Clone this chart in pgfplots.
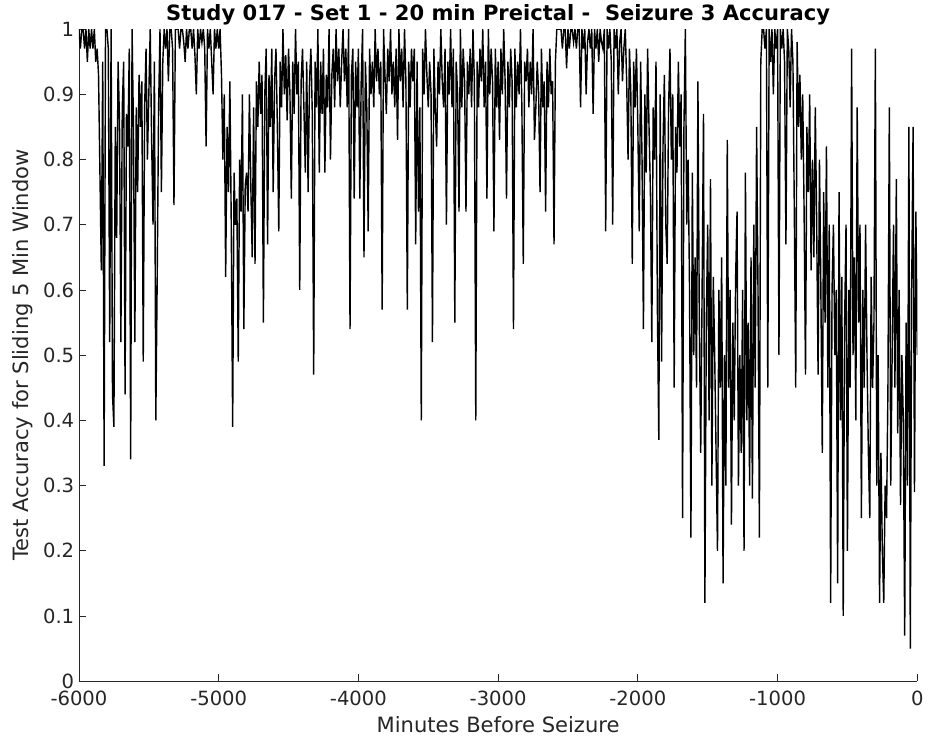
\documentclass[border=0pt]{standalone}
\usepackage{fontspec}
\setmainfont{DejaVu Sans}
\usepackage{pgfplots}
\pgfplotsset{compat=1.18}
\definecolor{axgray}{HTML}{262626}
\begin{document}
\begin{tikzpicture}
\begin{axis}[
  name=ax,
  width=621pt, height=483pt, scale only axis,
  xmin=-6000, xmax=0, ymin=0, ymax=1,
  axis lines=left, axis line style={-, axgray, line width=0.6pt},
  tick align=inside, major tick length=5pt,
  tick style={axgray, line width=0.6pt},
  xtick={-6000,-5000,...,0},
  ytick={0,0.1,...,1.01},
  yticklabels={0,0.1,0.2,0.3,0.4,0.5,0.6,0.7,0.8,0.9,1},
  /pgf/number format/assume math mode=true,
  /pgf/number format/1000 sep={},
  tick label style={font=\fontsize{14.5}{16}\selectfont, text=axgray},
  xticklabel style={yshift=-4pt},
  label style={font=\fontsize{15.6}{17}\selectfont, text=axgray},
  xlabel={Minutes Before Seizure},
  xlabel style={yshift=-1pt},
  ylabel={Test Accuracy for Sliding 5 Min Window},
  ylabel style={yshift=1pt},
  title={\bfseries Study 017 - Set 1 - 20 min Preictal -\ \ Seizure 3 Accuracy},
  title style={font=\fontsize{15.6}{17}\selectfont, yshift=-6.5pt},
  clip=true,
]
\addplot[black, line width=1.05pt] coordinates {
(-6000,1) (-5990,.97) (-5980,1) (-5970,1) (-5960,.97) (-5950,1) (-5940,.95) (-5930,1) (-5920,.97) (-5910,1)
(-5900,.97) (-5890,1) (-5880,.95) (-5870,.97) (-5860,.93) (-5850,.78) (-5840,.63) (-5830,.95) (-5820,.33) (-5810,1)
(-5800,1) (-5790,.97) (-5780,.52) (-5770,1) (-5760,.44) (-5750,.39) (-5740,.85) (-5730,.68) (-5720,.95) (-5710,.86)
(-5700,.52) (-5690,.88) (-5680,.95) (-5670,.44) (-5660,.87) (-5650,.82) (-5640,.97) (-5630,.34) (-5620,1) (-5610,.85)
(-5600,.52) (-5590,.88) (-5580,.75) (-5570,.93) (-5560,.85) (-5550,.92) (-5540,.49) (-5530,.88) (-5520,.97) (-5510,.8)
(-5500,.9) (-5490,1) (-5480,.83) (-5470,.7) (-5460,.95) (-5450,.4) (-5440,.62) (-5430,.88) (-5420,1) (-5410,.75)
(-5400,.95) (-5390,1) (-5380,.97) (-5370,1) (-5360,.92) (-5350,1) (-5340,1) (-5330,.97) (-5320,.73) (-5310,1)
(-5300,1) (-5290,1) (-5280,.97) (-5270,1) (-5260,1) (-5250,.98) (-5240,.95) (-5230,1) (-5220,.97) (-5210,1)
(-5200,1) (-5190,.97) (-5180,1) (-5170,.96) (-5160,.9) (-5150,1) (-5140,.97) (-5130,1) (-5120,.98) (-5110,1)
(-5100,.97) (-5090,.82) (-5080,1) (-5070,.97) (-5060,1) (-5050,.95) (-5040,.9) (-5030,1) (-5020,.97) (-5010,1)
(-5000,.97) (-4990,1) (-4980,.93) (-4970,.8) (-4960,.9) (-4950,.62) (-4940,.85) (-4930,.75) (-4920,.92) (-4910,.7)
(-4900,.39) (-4890,.78) (-4880,.7) (-4870,.74) (-4860,.49) (-4850,.8) (-4840,.72) (-4830,.9) (-4820,.54) (-4810,.76)
(-4800,.78) (-4790,.72) (-4780,.9) (-4770,.76) (-4760,.65) (-4750,.88) (-4740,.64) (-4730,.92) (-4720,.85) (-4710,.95)
(-4700,.87) (-4690,.93) (-4680,.55) (-4670,.9) (-4660,.97) (-4650,.67) (-4640,.93) (-4630,.85) (-4620,.97) (-4610,.75)
(-4600,.92) (-4590,.97) (-4580,.85) (-4570,.69) (-4560,.95) (-4550,.88) (-4540,1) (-4530,.9) (-4520,.96) (-4510,.86)
(-4500,.97) (-4490,.9) (-4480,.74) (-4470,.95) (-4460,.87) (-4450,1) (-4440,.9) (-4430,.95) (-4420,.6) (-4410,.92)
(-4400,.97) (-4390,.88) (-4380,.78) (-4370,.95) (-4360,.75) (-4350,.92) (-4340,.97) (-4330,.87) (-4320,.47) (-4310,.95)
(-4300,.88) (-4290,1) (-4280,.78) (-4270,.95) (-4260,.87) (-4250,.97) (-4240,.78) (-4230,.93) (-4220,.88) (-4210,1)
(-4200,.8) (-4190,.93) (-4180,.97) (-4170,.88) (-4160,1) (-4150,.92) (-4140,.97) (-4130,.88) (-4120,.95) (-4110,1)
(-4100,.92) (-4090,.97) (-4080,.88) (-4070,1) (-4060,.54) (-4050,.93) (-4040,.97) (-4030,.74) (-4020,.95) (-4010,.88)
(-4000,.97) (-3990,.74) (-3980,.92) (-3970,1) (-3960,.65) (-3950,.95) (-3940,.88) (-3930,.69) (-3920,.97) (-3910,.9)
(-3900,.95) (-3890,.88) (-3880,1) (-3870,.92) (-3860,.97) (-3850,.9) (-3840,.95) (-3830,.57) (-3820,1) (-3810,.93)
(-3800,.87) (-3790,.97) (-3780,.92) (-3770,1) (-3760,.9) (-3750,.95) (-3740,.88) (-3730,.97) (-3720,.83) (-3710,1)
(-3700,.92) (-3690,.97) (-3680,.88) (-3670,1) (-3660,.92) (-3650,.57) (-3640,.95) (-3630,.88) (-3620,.97) (-3610,.92)
(-3600,.97) (-3590,.67) (-3580,.95) (-3570,.72) (-3560,.88) (-3550,.4) (-3540,.97) (-3530,.9) (-3520,1) (-3510,.93)
(-3500,.88) (-3490,.95) (-3480,.9) (-3470,.52) (-3460,.97) (-3450,.88) (-3440,.82) (-3430,.95) (-3420,.9) (-3410,1)
(-3400,.92) (-3390,.88) (-3380,.97) (-3370,.7) (-3360,.95) (-3350,.9) (-3340,1) (-3330,.88) (-3320,.97) (-3310,.55)
(-3300,.95) (-3290,.9) (-3280,.72) (-3270,1) (-3260,.88) (-3250,.97) (-3240,.92) (-3230,.72) (-3220,.95) (-3210,.9)
(-3200,.97) (-3190,.88) (-3180,1) (-3170,.92) (-3160,.4) (-3150,.95) (-3140,.88) (-3130,.97) (-3120,.92) (-3110,1)
(-3100,.88) (-3090,.95) (-3080,.74) (-3070,1) (-3060,.9) (-3050,.97) (-3040,.92) (-3030,.69) (-3020,.97) (-3010,.88)
(-3000,.95) (-2990,.83) (-2980,.97) (-2970,.9) (-2960,1) (-2950,.92) (-2940,.74) (-2930,.95) (-2920,.88) (-2910,.97)
(-2900,.92) (-2890,.54) (-2880,.97) (-2870,.88) (-2860,.95) (-2850,.9) (-2840,1) (-2830,.88) (-2820,.64) (-2810,.95)
(-2800,.92) (-2790,.97) (-2780,.88) (-2770,.95) (-2760,.9) (-2750,1) (-2740,.83) (-2730,.88) (-2720,.95) (-2710,.9)
(-2700,.75) (-2690,.97) (-2680,.88) (-2670,.92) (-2660,.72) (-2650,.95) (-2640,.88) (-2630,.97) (-2620,.9) (-2610,.92)
(-2600,.67) (-2590,.95) (-2580,1) (-2570,1) (-2560,1) (-2550,1) (-2540,.97) (-2530,1) (-2520,1) (-2510,.94)
(-2500,1) (-2490,.97) (-2480,1) (-2470,1) (-2460,.98) (-2450,1) (-2440,.97) (-2430,1) (-2420,1) (-2410,.88)
(-2400,1) (-2390,.97) (-2380,1) (-2370,.9) (-2360,.98) (-2350,1) (-2340,.97) (-2330,1) (-2320,.87) (-2310,1)
(-2300,.97) (-2290,1) (-2280,.95) (-2270,1) (-2260,.98) (-2250,.97) (-2240,1) (-2230,.69) (-2220,1) (-2210,.97)
(-2200,1) (-2190,.95) (-2180,.7) (-2170,1) (-2160,.97) (-2150,1) (-2140,.9) (-2130,.98) (-2120,1) (-2110,.92)
(-2100,.97) (-2090,1) (-2080,.92) (-2070,.8) (-2060,.97) (-2050,.9) (-2040,.64) (-2030,.95) (-2020,.88) (-2010,.97)
(-2000,.85) (-1990,.69) (-1980,.95) (-1970,.8) (-1960,.54) (-1950,.9) (-1940,.78) (-1930,.97) (-1920,.85) (-1910,.75)
(-1900,.52) (-1890,.88) (-1880,.8) (-1870,.95) (-1860,.57) (-1850,.37) (-1840,.9) (-1830,.49) (-1820,.82) (-1810,.93)
(-1800,.7) (-1790,.64) (-1780,.88) (-1770,.97) (-1760,.8) (-1750,.9) (-1740,.45) (-1730,.85) (-1720,.78) (-1710,.95)
(-1700,.82) (-1690,.9) (-1680,.25) (-1670,.85) (-1660,1) (-1650,.7) (-1640,.8) (-1630,.6) (-1620,.22) (-1610,.78)
(-1600,.5) (-1590,.65) (-1580,.45) (-1570,.92) (-1560,.55) (-1550,.35) (-1540,.6) (-1530,.87) (-1520,.12) (-1510,.55)
(-1500,.7) (-1490,.4) (-1480,.77) (-1470,.3) (-1460,.62) (-1450,.5) (-1440,.35) (-1430,.2) (-1420,.6) (-1410,.45)
(-1400,.65) (-1390,.15) (-1380,.5) (-1370,.3) (-1360,.83) (-1350,.45) (-1340,.6) (-1330,.24) (-1320,.55) (-1310,.4)
(-1300,.62) (-1290,.72) (-1280,.3) (-1270,.5) (-1260,.35) (-1250,.6) (-1240,.2) (-1230,.78) (-1220,.4) (-1210,.55)
(-1200,.3) (-1190,.65) (-1180,.28) (-1170,.7) (-1160,.45) (-1150,.85) (-1140,.6) (-1130,.22) (-1120,.95) (-1110,1)
(-1100,1) (-1090,.97) (-1080,1) (-1070,.45) (-1060,1) (-1050,.95) (-1040,1) (-1030,.9) (-1020,1) (-1010,.97)
(-1000,1) (-990,.5) (-980,1) (-970,.97) (-960,1) (-950,.95) (-940,.67) (-930,1) (-920,.97) (-910,.88)
(-900,1) (-890,.95) (-880,.72) (-870,.45) (-860,.98) (-850,.85) (-840,.93) (-830,.8) (-820,.9) (-810,.72)
(-800,.47) (-790,.85) (-780,.75) (-770,.9) (-760,.63) (-750,.8) (-740,.65) (-730,.88) (-720,.7) (-710,.47)
(-700,.8) (-690,.6) (-680,.35) (-670,.75) (-660,.55) (-650,.82) (-640,.45) (-630,.7) (-620,.12) (-610,.6)
(-600,.7) (-590,.5) (-580,.6) (-570,.15) (-560,.75) (-550,.4) (-540,.62) (-530,.1) (-520,.55) (-510,.7)
(-500,.2) (-490,.6) (-480,.45) (-470,.97) (-460,.5) (-450,.65) (-440,.4) (-430,.88) (-420,.55) (-410,.7)
(-400,.25) (-390,.6) (-380,.45) (-370,.7) (-360,.5) (-350,.35) (-340,.25) (-330,.62) (-320,.45) (-310,.55)
(-300,.97) (-290,.3) (-280,.5) (-270,.12) (-260,.35) (-250,.2) (-240,.12) (-230,.3) (-220,.25) (-210,.45)
(-200,.88) (-190,.3) (-180,.5) (-170,.7) (-160,.45) (-150,.77) (-140,.38) (-130,.6) (-120,.27) (-110,.5)
(-100,.4) (-90,.07) (-80,.55) (-70,.3) (-60,.85) (-50,.05) (-40,.6) (-30,.85) (-20,.29) (-10,.72)
(0,.5)
};
\end{axis}
\path ([xshift=-58.5pt]ax.south west) rectangle ++(0.1pt,0.1pt);
\end{tikzpicture}
\end{document}
